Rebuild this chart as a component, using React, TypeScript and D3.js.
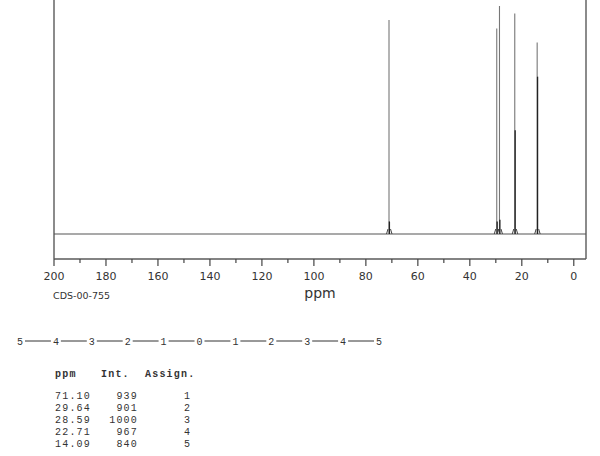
import React from "react";
import * as d3 from "d3";

const peakPpm = [71.1, 29.64, 28.59, 22.71, 14.09];
const peakIntensity = [939, 901, 1000, 967, 840];
const peakInner = [55, 55, 62, 455, 690];
const peakAssign = [1, 2, 3, 4, 5];
const peakPpmLabels = ["71.10", "29.64", "28.59", "22.71", "14.09"];
const bondLabels = ["5", "4", "3", "2", "1", "0", "1", "2", "3", "4", "5"];
const sampleId = "CDS-00-755";
const axisTitle = "ppm";

const W = 600;
const H = 456;

export default function App() {
  const x = d3.scaleLinear().domain([200, -4.7]).range([54, 586]);
  const y = d3.scaleLinear().domain([0, 1000]).range([234, 6]);
  const majorTicks = d3.range(200, -1, -20);
  const minorTicks = d3.range(190, 0, -20);
  const bx = d3.scalePoint<number>().domain(d3.range(bondLabels.length)).range([20, 379]);
  const frameBottom = 259;
  const base = y(0);

  const tableTop = 377;
  const rowY = (i: number) => 398.5 + i * 12;

  return (
    <div style={{ position: "absolute", left: 0, top: 0 }}>
      <svg width={W} height={H} style={{ display: "block", background: "#fff" }}>
        {/* frame */}
        <g stroke="#5a5a5a" strokeWidth={1.4} fill="none">
          <line x1={x(200)} y1={0} x2={x(200)} y2={frameBottom} />
          <line x1={x(-4.7)} y1={0} x2={x(-4.7)} y2={frameBottom} />
          <line x1={x(200)} y1={frameBottom} x2={x(-4.7)} y2={frameBottom} />
        </g>
        {/* ticks */}
        <g stroke="#444" strokeWidth={1.2}>
          {majorTicks.map((t) => (
            <line key={"M" + t} x1={x(t)} x2={x(t)} y1={frameBottom} y2={frameBottom + 7} />
          ))}
          {minorTicks.map((t) => (
            <line key={"m" + t} x1={x(t)} x2={x(t)} y1={frameBottom} y2={frameBottom + 4} />
          ))}
        </g>
        <g fontFamily="DejaVu Sans, Verdana, sans-serif" fontSize={11} fill="#333" textAnchor="middle">
          {majorTicks.map((t) => (
            <text key={"l" + t} x={x(t)} y={280}>
              {t}
            </text>
          ))}
        </g>
        <text x={53} y={299} fontFamily="DejaVu Sans, sans-serif" fontSize={9.5} fill="#333">
          {sampleId}
        </text>
        <text x={320} y={298} fontFamily="DejaVu Sans, sans-serif" fontSize={14} fill="#333" textAnchor="middle">
          {axisTitle}
        </text>

        {/* baseline */}
        <line x1={x(200)} x2={x(-4.7)} y1={base} y2={base} stroke="#555" strokeWidth={1.1} />
        {/* peaks */}
        {peakPpm.map((p, i) => {
          const px = x(p);
          return (
            <g key={"p" + i}>
              <line x1={px} x2={px} y1={base} y2={y(peakIntensity[i])} stroke="#777" strokeWidth={1.1} />
              <line x1={px + 0.4} x2={px + 0.4} y1={base} y2={y(peakInner[i])} stroke="#222" strokeWidth={1.3} />
              <path
                d={`M${px - 2.5},${base} L${px - 1},${base - 5} M${px + 1.5},${base - 5} L${px + 3},${base}`}
                stroke="#444"
                strokeWidth={1}
                fill="none"
              />
            </g>
          );
        })}

        {/* bond line */}
        <g>
          {bondLabels.slice(0, -1).map((_, i) => (
            <line
              key={"b" + i}
              x1={(bx(i) as number) + 5}
              x2={(bx(i + 1) as number) - 5}
              y1={341}
              y2={341}
              stroke="#333"
              strokeWidth={1}
            />
          ))}
          {bondLabels.map((b, i) => (
            <text
              key={"bt" + i}
              x={bx(i)}
              y={344.5}
              textAnchor="middle"
              fontFamily="Liberation Mono, monospace"
              fontSize={10}
              fill="#333"
            >
              {b}
            </text>
          ))}
        </g>

        {/* table */}
        <g fontFamily="Liberation Mono, monospace" fontSize={10} letterSpacing={1.2} fill="#333">
          <g fontWeight="bold">
            <text x={55} y={tableTop}>ppm</text>
            <text x={101} y={tableTop}>Int.</text>
            <text x={145} y={tableTop}>Assign.</text>
          </g>
          {peakPpm.map((_, i) => (
            <g key={"r" + i}>
              <text x={55} y={rowY(i)}>{peakPpmLabels[i]}</text>
              <text x={138} y={rowY(i)} textAnchor="end">{peakIntensity[i]}</text>
              <text x={187.5} y={rowY(i)} textAnchor="middle">{peakAssign[i]}</text>
            </g>
          ))}
        </g>
      </svg>
    </div>
  );
}
